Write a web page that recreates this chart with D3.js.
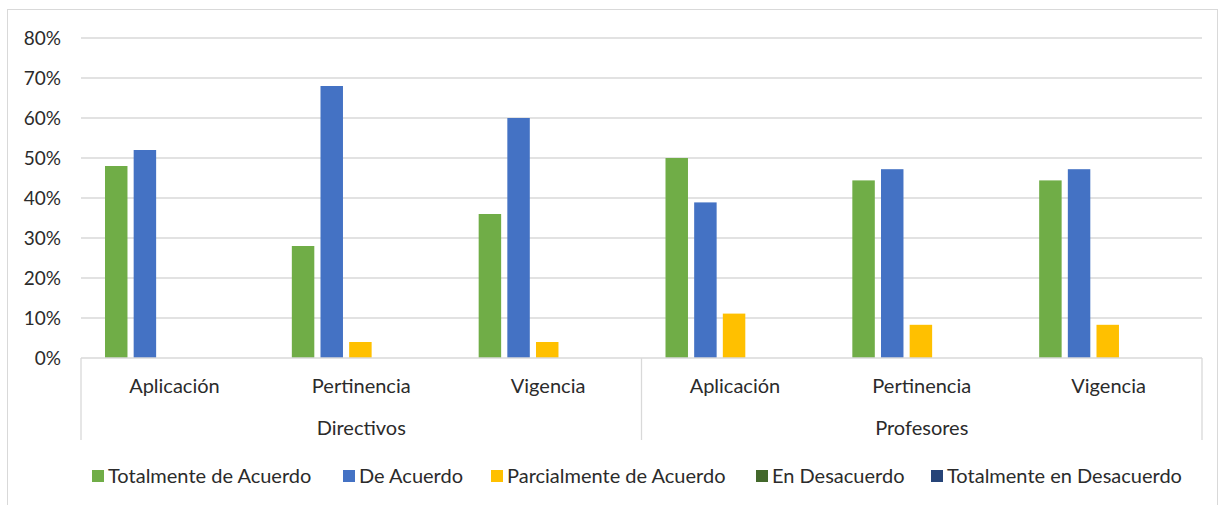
<!DOCTYPE html>
<html><head><meta charset="utf-8">
<script src="https://cdn.jsdelivr.net/npm/d3@7"></script>
<style>body{margin:0;background:#fff}svg{display:block}text{font-family:Lato,"Open Sans",sans-serif;fill:#2b2b2b}</style>
</head><body>
<svg id="c" width="1220" height="505"></svg>
<script>
const groups = ["Directivos","Profesores"];
const categories = ["Aplicación","Pertinencia","Vigencia"];
const series = ["Totalmente de Acuerdo","De Acuerdo","Parcialmente de Acuerdo","En Desacuerdo","Totalmente en Desacuerdo"];
const colors = ["#70AD47","#4472C4","#FFC000","#43682B","#264478"];
// values per series, 6 entries: Directivos(Aplicación, Pertinencia, Vigencia), Profesores(...)
const totalmenteAcuerdo = [48,28,36,50,44.4,44.4];
const deAcuerdo = [52,68,60,38.9,47.2,47.2];
const parcialmente = [0,4,4,11.1,8.3,8.3];
const enDesacuerdo = [0,0,0,0,0,0];
const totalmenteDesacuerdo = [0,0,0,0,0,0];
const yTicks = [0,10,20,30,40,50,60,70,80];

const values = [totalmenteAcuerdo, deAcuerdo, parcialmente, enDesacuerdo, totalmenteDesacuerdo];
const svg = d3.select("#c");
svg.append("rect").attr("x",7.5).attr("y",9.5).attr("width",1210).attr("height",500).attr("fill","none").attr("stroke","#D9D9D9");

const L=81, R=1202, T=38, B=358;
const FS = 20;
const slots = [];
groups.forEach(g=>categories.forEach(c=>slots.push(g+"|"+c)));
const x = d3.scaleBand().domain(slots).range([L,R]);
const y = d3.scaleLinear().domain([0,80]).range([B,T]);
const xi = d3.scaleBand().domain(series).range([24, x.bandwidth()-25.7]).paddingInner(0.216).paddingOuter(0);

// gridlines
svg.append("g").selectAll("line").data(yTicks.slice(1)).join("line")
  .attr("x1",L).attr("x2",R).attr("y1",d=>y(d)).attr("y2",d=>y(d))
  .attr("stroke","#D9D9D9").attr("stroke-width",1.3);
// y labels
svg.append("g").selectAll("text").data(yTicks).join("text")
  .attr("x",61).attr("y",d=>y(d)).attr("dy","0.35em").attr("text-anchor","end")
  .attr("font-size",FS-1).text(d=>d+"%");

// bars
series.forEach((s,si)=>{
  svg.append("g").selectAll("rect").data(values[si]).join("rect")
    .attr("x",(d,i)=>x(slots[i])+xi(s)).attr("width",xi.bandwidth())
    .attr("y",d=>y(d)).attr("height",d=>B-y(d)).attr("fill",colors[si]);
});

// category axis box
const ax = svg.append("g").attr("stroke","#D9D9D9").attr("stroke-width",1.3);
ax.append("line").attr("x1",L).attr("x2",R).attr("y1",B).attr("y2",B);
[L,(L+R)/2,R].forEach(v=>ax.append("line").attr("x1",v).attr("x2",v).attr("y1",B).attr("y2",440));
svg.append("g").selectAll("text").data(slots).join("text")
  .attr("x",d=>x(d)+x.bandwidth()/2).attr("y",386).attr("dy","0.35em").attr("text-anchor","middle")
  .attr("font-size",FS).text(d=>d.split("|")[1]);
svg.append("g").selectAll("text").data(groups).join("text")
  .attr("x",(d,i)=>L+(R-L)/4*(2*i+1)).attr("y",428).attr("dy","0.35em").attr("text-anchor","middle")
  .attr("font-size",FS).text(d=>d);

// legend
const legX = [92,343,491,756,931];
const lg = svg.append("g");
series.forEach((s,i)=>{
  lg.append("rect").attr("x",legX[i]).attr("y",470).attr("width",12).attr("height",12).attr("fill",colors[i]);
  lg.append("text").attr("x",legX[i]+16).attr("y",476).attr("dy","0.35em").attr("font-size",FS).text(s);
});
</script>
</body></html>
